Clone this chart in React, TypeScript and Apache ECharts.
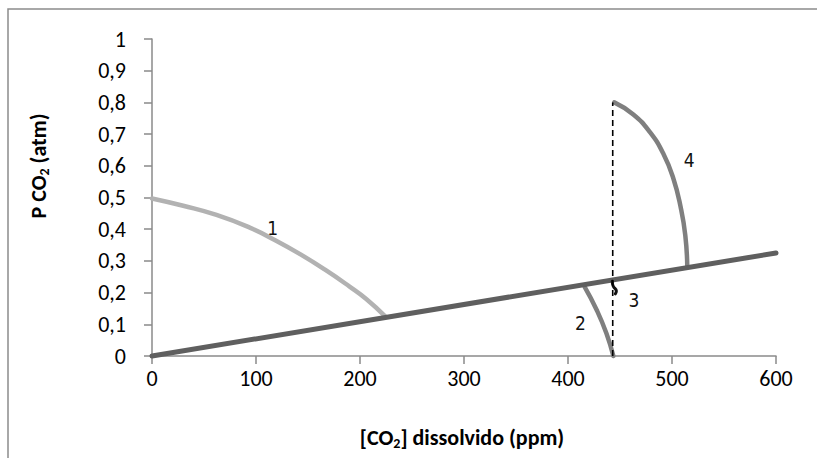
import React, { useEffect, useRef } from "react";
import * as echarts from "echarts";

const xTicks = [0, 100, 200, 300, 400, 500, 600];
const yTicks = [0, 0.1, 0.2, 0.3, 0.4, 0.5, 0.6, 0.7, 0.8, 0.9, 1];

// Henry's law line
const lineData: [number, number][] = [
  [0, 0],
  [600, 0.325],
];
// Curve 1
const curve1: [number, number][] = [
  [0, 0.497],
  [30, 0.474],
  [62, 0.445],
  [94, 0.405],
  [118, 0.366],
  [142, 0.322],
  [166, 0.273],
  [190, 0.219],
  [206, 0.18],
  [224, 0.126],
];
// Curve 2
const curve2: [number, number][] = [
  [416, 0.218],
  [427.6, 0.145],
  [437, 0.071],
  [443.6, 0],
];
// Curve 3
const curve3: [number, number][] = [
  [442.5, 0.236],
  [443.5, 0.22],
  [446.5, 0.205],
  [445.5, 0.196],
];
// Curve 4
const curve4: [number, number][] = [
  [444.5, 0.8],
  [462.8, 0.762],
  [478.8, 0.706],
  [491.7, 0.638],
  [501.3, 0.56],
  [508.3, 0.47],
  [512.8, 0.38],
  [514.7, 0.282],
];
// Dashed vertical
const dashed: [number, number][] = [
  [443, 0],
  [443, 0.8],
];
// Curve labels
const curveLabels = [
  { name: "1", coord: [116, 0.404] },
  { name: "2", coord: [412, 0.103] },
  { name: "3", coord: [463.5, 0.176] },
  { name: "4", coord: [516.6, 0.618] },
];

const FONT = "Carlito, Lato, 'Open Sans', sans-serif";

export default function App() {
  const ref = useRef<HTMLDivElement>(null);
  useEffect(() => {
    if (!ref.current) return;
    const chart = echarts.init(ref.current, undefined, { renderer: "svg" });
    const lineSeries = (
      data: [number, number][],
      color: string,
      width: number,
      smooth: boolean,
      extra: any = {}
    ) => ({
      type: "line",
      data,
      smooth: smooth ? 0.5 : false,
      symbol: "none",
      clip: false,
      lineStyle: { color, width, cap: "round" },
      silent: true,
      ...extra,
    });
    chart.setOption({
      animation: false,
      backgroundColor: "#ffffff",
      grid: { left: 152, right: 41, top: 39, bottom: 102, containLabel: false },
      xAxis: {
        type: "value",
        min: 0,
        max: 600,
        interval: 100,
        axisLine: { show: true, lineStyle: { color: "#8a8a8a", width: 1.5 } },
        axisTick: { show: true, length: 8, lineStyle: { color: "#8a8a8a", width: 1.5 } },
        splitLine: { show: false },
        axisLabel: {
          margin: 11,
          fontSize: 22,
          color: "#000",
          fontFamily: FONT,
          formatter: (v: number) => (xTicks.includes(v) ? String(v) : ""),
        },
      },
      yAxis: {
        type: "value",
        min: 0,
        max: 1,
        interval: 0.1,
        axisLine: { show: true, lineStyle: { color: "#8a8a8a", width: 1.5 } },
        axisTick: { show: true, length: 8, lineStyle: { color: "#8a8a8a", width: 1.5 } },
        splitLine: { show: false },
        axisLabel: {
          margin: 26,
          fontSize: 22,
          color: "#000",
          fontFamily: FONT,
          formatter: (v: number) => {
            const t = yTicks.find((y) => Math.abs(y - v) < 1e-6);
            if (t === undefined) return "";
            if (t === 0) return "0";
            if (t === 1) return "1";
            return t.toFixed(1).replace(".", ",");
          },
        },
      },
      graphic: [
        {
          type: "rect",
          shape: { x: 8, y: 9, width: 900, height: 600 },
          style: { fill: "none", stroke: "#8c8c8c", lineWidth: 1.5 },
          silent: true,
          z: -10,
        },
        {
          type: "text",
          x: 38,
          y: 166,
          rotation: Math.PI / 2,
          style: {
            text: "{b|P CO}{s|2}{b| (atm)}",
            align: "center",
            verticalAlign: "middle",
            rich: {
              b: { fontSize: 22, fontWeight: "bold", fontFamily: FONT, fill: "#000" },
              s: { fontSize: 14, fontWeight: "bold", fontFamily: FONT, fill: "#000", padding: [12, 0, 0, 0] },
            },
          },
        },
        {
          type: "text",
          x: 462,
          y: 437,
          style: {
            text: "{b|[CO}{s|2}{b|] dissolvido (ppm)}",
            align: "center",
            verticalAlign: "middle",
            rich: {
              b: { fontSize: 22, fontWeight: "bold", fontFamily: FONT, fill: "#000" },
              s: { fontSize: 14, fontWeight: "bold", fontFamily: FONT, fill: "#000", padding: [12, 0, 0, 0] },
            },
          },
        },
      ],
      series: [
        lineSeries(curve1, "#b2b2b2", 4.5, true),
        lineSeries(curve2, "#7f7f7f", 4.5, true),
        lineSeries(curve4, "#7f7f7f", 4.5, true),
        lineSeries(lineData, "#5f5f5f", 5, false),
        lineSeries(curve3, "#111111", 3, true),
        lineSeries(dashed, "#000000", 1.6, false, {
          lineStyle: { color: "#000", width: 1.6, type: [6, 4] },
          markPoint: {
            symbol: "circle",
            symbolSize: 0,
            silent: true,
            label: {
              show: true,
              position: "inside",
              formatter: (p: any) => p.name,
              fontFamily: "'Liberation Sans Narrow', 'DejaVu Sans Condensed', sans-serif",
              fontSize: 19,
              color: "#111",
            },
            data: curveLabels.map((l) => ({ name: l.name, coord: l.coord })),
          },
        }),
      ],
    });
    return () => chart.dispose();
  }, []);
  return (
    <div
      ref={ref}
      style={{ position: "fixed", left: 0, top: 0, width: 817, height: 458 }}
    />
  );
}
